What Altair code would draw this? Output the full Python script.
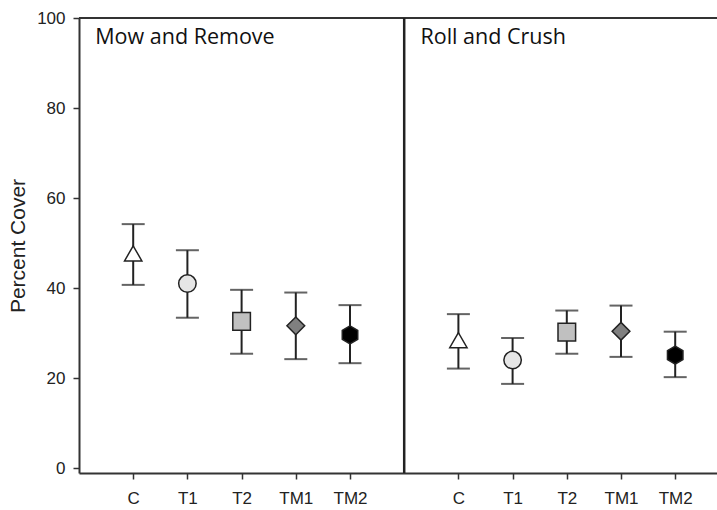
import altair as alt
import pandas as pd

# ---- data ----
categories = ["C", "T1", "T2", "TM1", "TM2"]
panels = ["Mow and Remove", "Roll and Crush"]
mow_mean = [47.7, 41.0, 32.6, 31.6, 29.6]
mow_low = [40.7, 33.4, 25.4, 24.2, 23.3]
mow_high = [54.2, 48.4, 39.6, 39.0, 36.2]
roll_mean = [28.4, 24.0, 30.2, 30.4, 25.1]
roll_low = [22.1, 18.7, 25.4, 24.7, 20.2]
roll_high = [34.2, 28.9, 35.0, 36.1, 30.3]
y_ticks = [0, 20, 40, 60, 80, 100]

HEX = "M0,-1L0.866,-0.5L0.866,0.5L0,1L-0.866,0.5L-0.866,-0.5Z"
shapes = ["triangle-up", "circle", "square", "diamond", HEX]
fills = ["#ffffff", "#e6e6e6", "#c0c0c0", "#808080", "#000000"]
sizes = [300, 320, 230, 380, 300]

rows = []
for p_i, (means, lows, highs) in enumerate([(mow_mean, mow_low, mow_high),
                                             (roll_mean, roll_low, roll_high)]):
    for c_i, cat in enumerate(categories):
        rows.append({
            "panel": panels[p_i],
            "cat": cat,
            "pos": p_i * 6 + c_i + 1,
            "mean": means[c_i],
            "low": lows[c_i],
            "high": highs[c_i],
        })
df = pd.DataFrame(rows)

label_map = {str(p_i * 6 + c_i + 1): cat for p_i in range(2) for c_i, cat in enumerate(categories)}
label_expr = " : ".join([f"datum.value == {k} ? '{v}'" for k, v in label_map.items()]) + " : ''"

STEP = 54.2
W = 638
x_scale = alt.Scale(domain=[0, W / STEP], nice=False, zero=False)
y_scale = alt.Scale(domain=[-1.1, 100], nice=False, zero=False)

x_axis = alt.Axis(values=[int(k) for k in label_map.keys()], labelExpr=label_expr,
                  title=None, labelPadding=11)
y_axis = alt.Axis(values=y_ticks, title="Percent Cover", labelPadding=8, titlePadding=8)

base = alt.Chart(df)

bars = base.mark_rule(color="#222222", strokeWidth=2).encode(
    x=alt.X("pos:Q", scale=x_scale, axis=x_axis),
    y=alt.Y("low:Q", scale=y_scale, axis=y_axis),
    y2="high:Q",
)
caps_hi = base.mark_tick(orient="horizontal", color="#222222", size=23, thickness=2).encode(
    x=alt.X("pos:Q", scale=x_scale, axis=x_axis), y=alt.Y("high:Q", scale=y_scale, axis=y_axis))
caps_lo = base.mark_tick(orient="horizontal", color="#222222", size=23, thickness=2).encode(
    x=alt.X("pos:Q", scale=x_scale, axis=x_axis), y=alt.Y("low:Q", scale=y_scale, axis=y_axis))

points = base.mark_point(filled=True, stroke="#222222", strokeWidth=1.5, opacity=1).encode(
    x=alt.X("pos:Q", scale=x_scale, axis=x_axis),
    y=alt.Y("mean:Q", scale=y_scale, axis=y_axis),
    shape=alt.Shape("cat:N", scale=alt.Scale(domain=categories, range=shapes), legend=None),
    fill=alt.Fill("cat:N", scale=alt.Scale(domain=categories, range=fills), legend=None),
    size=alt.Size("cat:N", scale=alt.Scale(domain=categories, range=sizes), legend=None),
)

top_line = alt.Chart(pd.DataFrame({"v": [100]})).mark_rule(color="#333333", strokeWidth=2).encode(
    y=alt.Y("v:Q", scale=y_scale, axis=y_axis))
divider = alt.Chart(pd.DataFrame({"d": [6]})).mark_rule(color="#222222", strokeWidth=2.5).encode(
    x=alt.X("d:Q", scale=x_scale, axis=x_axis))

titles = alt.Chart(pd.DataFrame({"t": panels, "tx": [0.3, 6.3]})).mark_text(
    align="left", baseline="middle", font="Open Sans", fontSize=21.5, color="#111111"
).encode(x=alt.X("tx:Q", scale=x_scale, axis=x_axis), y=alt.value(20), text="t:N")

chart = alt.layer(bars, caps_hi, caps_lo, points, top_line, divider, titles).properties(
    width=W, height=455,
    autosize=alt.AutoSizeParams(type="none"),
    padding={"left": 79, "top": 18, "right": 0, "bottom": 37},
).configure_view(stroke=None).configure_axis(
    grid=False, domainColor="#333333", domainWidth=2, tickColor="#333333",
    tickWidth=1.5, tickSize=6, labelFont="Liberation Sans", labelFontSize=17,
    labelColor="#222222", titleFont="Liberation Sans", titleFontSize=21,
    titleFontWeight="normal", titleColor="#222222",
)

chart.save("out.html", embed_options={"renderer": "svg", "actions": False})
